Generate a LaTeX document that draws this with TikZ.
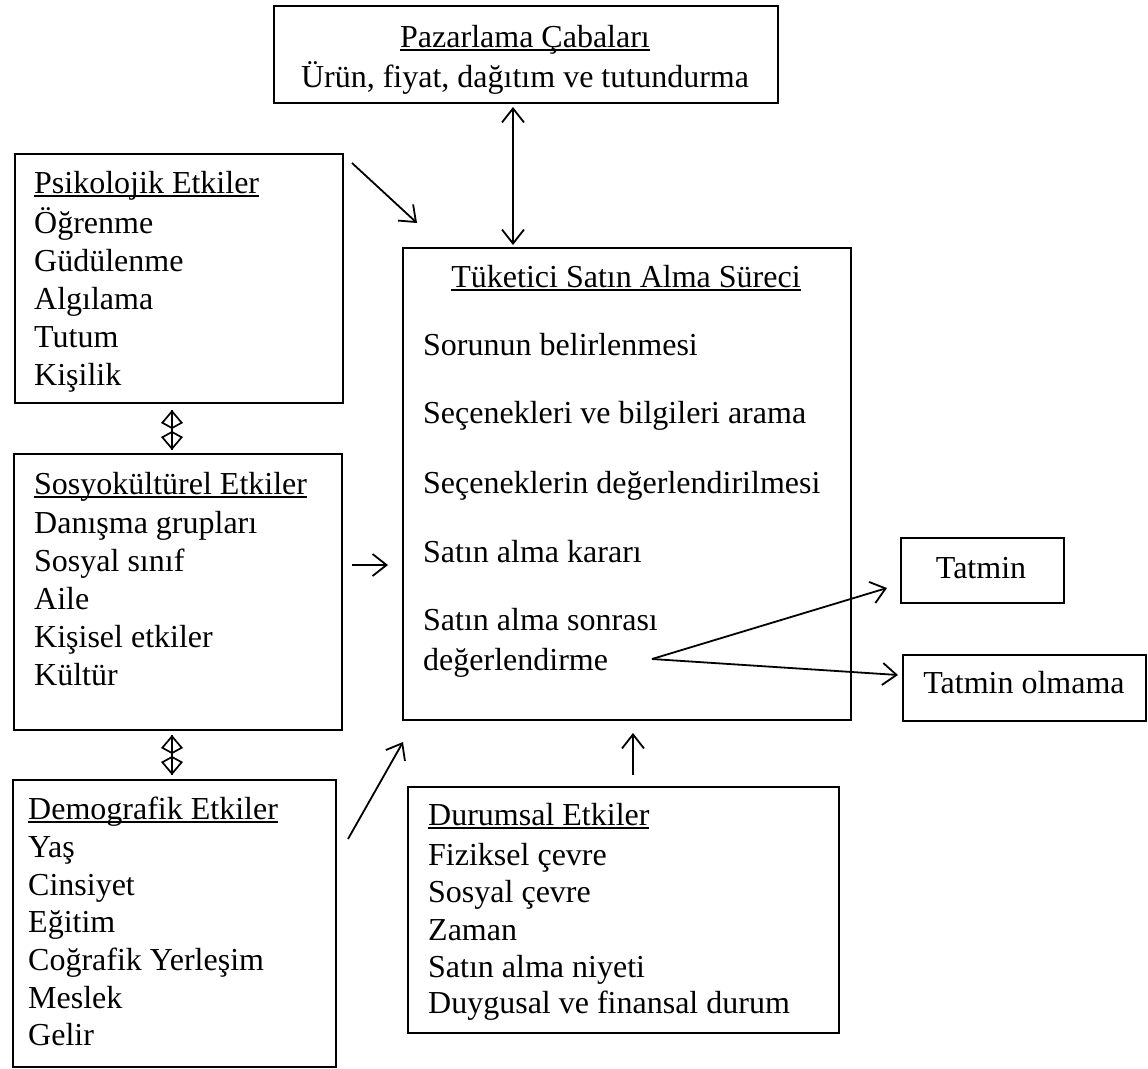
\documentclass[tikz,border=0pt]{standalone}
\usepackage{fontspec}
\setmainfont{Liberation Serif}
\usetikzlibrary{arrows.meta}
\newcommand\ulx[1]{\setbox0\hbox{#1}\rlap{\rule[-4pt]{\wd0}{1.6pt}}\box0}
\begin{document}
\begin{tikzpicture}[x=1pt,y=-1pt,
  box/.style={draw, line width=1.8, anchor=north west, inner sep=0},
  txt/.style={inner sep=0, anchor=base west, font=\fontsize{32}{38}\selectfont},
  ctxt/.style={txt, anchor=base},
  arr/.style={line width=1.8, -{Straight Barb[length=14,width=22]}},
  darr/.style={line width=1.8, {Straight Barb[length=14,width=22]}-{Straight Barb[length=14,width=22]}},
  kitearr/.style={line width=1.7, {Kite[open,length=19,width=22,inset=6]}-{Kite[open,length=19,width=22,inset=6]}},
  shaft/.style={line width=1.7}
]
\useasboundingbox (0,0) rectangle (1148,1068);

% boxes
\node[box, minimum width=504, minimum height=97]  (paz) at (273,5) {};
\node[box, minimum width=328, minimum height=249] (psi) at (14,153) {};
\node[box, minimum width=328, minimum height=276] (soc) at (13,453) {};
\node[box, minimum width=323, minimum height=287] (dem) at (12,779) {};
\node[box, minimum width=448, minimum height=472] (tuk) at (402,247) {};
\node[box, minimum width=431, minimum height=246] (dur) at (407,786) {};
\node[box, minimum width=163, minimum height=65]  (tat) at (900,537) {};
\node[box, minimum width=243, minimum height=66]  (tol) at (902,654) {};

% Pazarlama
\node[ctxt] (paz0) at (525,47) {\ulx{Pazarlama Çabaları}};
\node[ctxt] (paz1) at (525,87) {Ürün, fiyat, dağıtım ve tutundurma};

% Psikolojik
\node[txt] (psi0) at (34,193) {\ulx{Psikolojik Etkiler}};
\foreach \yy/\tt [count=\i] in {233/Öğrenme, 271/Güdülenme, 309/Algılama, 347/Tutum, 385/Kişilik}
  \node[txt] (psi\i) at (34,\yy) {\tt};

% Sosyokulturel
\node[txt] (soc0) at (34,494) {\ulx{Sosyokültürel Etkiler}};
\foreach \yy/\tt [count=\i] in {533/Danışma grupları, 571/Sosyal sınıf, 609/Aile, 647/Kişisel etkiler, 685/Kültür}
  \node[txt] (soc\i) at (34,\yy) {\tt};

% Demografik
\node[txt] (dem0) at (28,819) {\ulx{Demografik Etkiler}};
\foreach \yy/\tt [count=\i] in {857/Yaş, 895/Cinsiyet, 932/Eğitim, 970/Coğrafik Yerleşim, 1008/Meslek, 1045/Gelir}
  \node[txt] (dem\i) at (28,\yy) {\tt};

% Tuketici
\node[ctxt] (tuk0) at (626,287) {\ulx{Tüketici Satın Alma Süreci}};
\foreach \yy/\tt [count=\i] in {355/Sorunun belirlenmesi, 423/Seçenekleri ve bilgileri arama, 493/Seçeneklerin değerlendirilmesi, 562/Satın alma kararı, 630/Satın alma sonrası, 670/değerlendirme}
  \node[txt] (tuk\i) at (423,\yy) {\tt};

% Durumsal
\node[txt] (dur0) at (428,825) {\ulx{Durumsal Etkiler}};
\foreach \yy/\tt [count=\i] in {865/Fiziksel çevre, 902/Sosyal çevre, 940/Zaman, 977/Satın alma niyeti, 1013/Duygusal ve finansal durum}
  \node[txt] (dur\i) at (428,\yy) {\tt};

% results
\node[ctxt] (tat0) at (981,578) {Tatmin};
\node[ctxt] (tol0) at (1024,693) {Tatmin olmama};

% connector end points
\coordinate (pazA) at (513,107);
\coordinate (tukA) at (513,245);
\coordinate (psiB) at (352,163);
\coordinate (tukB) at (417,223);
\coordinate (socB) at (352,565);
\coordinate (tukC) at (388,565);
\coordinate (demB) at (348,839);
\coordinate (tukD) at (403,742);
\coordinate (durB) at (633,775);
\coordinate (tukE) at (633,733);
\coordinate (split) at (652,659);
\coordinate (tatA) at (887,588);
\coordinate (tolA) at (898,675);
\coordinate (psiK) at (172,410);
\coordinate (socK) at (172,450);
\coordinate (socL) at (172,735);
\coordinate (demK) at (172,775);

% connectors
\draw[darr] (pazA) -- (tukA);
\draw[arr] (psiB) -- (tukB);
\draw[arr] (socB) -- (tukC);
\draw[arr] (demB) -- (tukD);
\draw[arr] (durB) -- (tukE);
\draw[arr] (split) -- (tatA);
\draw[arr] (split) -- (tolA);
\draw[kitearr] (psiK) -- (socK);
\draw[shaft] (psiK) -- (socK);
\draw[kitearr] (socL) -- (demK);
\draw[shaft] (socL) -- (demK);
\end{tikzpicture}
\end{document}
